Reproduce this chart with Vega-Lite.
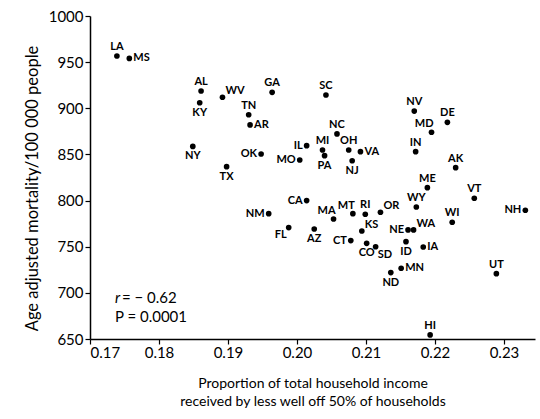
{
  "$schema": "https://vega.github.io/schema/vega-lite/v6.json",
  "width": 445,
  "height": 323,
  "autosize": {"type": "none"},
  "padding": {"left": 90, "top": 16, "right": 5, "bottom": 80},
  "background": "white",
  "config": {
    "view": {"stroke": null},
    "font": "Lato",
    "axis": {"domainColor": "black", "tickColor": "black", "labelColor": "black", "titleColor": "black", "grid": false, "labelFont": "Lato", "titleFont": "Lato", "titleFontWeight": "normal", "domainWidth": 1.5, "tickWidth": 1.2}
  },
  "data": {"values": [
    {"st": "LA", "x": 0.1739, "y": 956.7, "pos": "above"},
    {"st": "MS", "x": 0.1757, "y": 954, "pos": "right"},
    {"st": "AL", "x": 0.1861, "y": 918.7, "pos": "above"},
    {"st": "KY", "x": 0.1859, "y": 906, "pos": "below"},
    {"st": "WV", "x": 0.1892, "y": 912, "pos": "aboveright"},
    {"st": "TN", "x": 0.1930, "y": 893, "pos": "above"},
    {"st": "AR", "x": 0.1932, "y": 882, "pos": "right"},
    {"st": "NY", "x": 0.1849, "y": 858.7, "pos": "below"},
    {"st": "GA", "x": 0.1964, "y": 917.3, "pos": "above"},
    {"st": "SC", "x": 0.2042, "y": 914.4, "pos": "above"},
    {"st": "NC", "x": 0.2058, "y": 872.2, "pos": "above"},
    {"st": "OH", "x": 0.2075, "y": 854.8, "pos": "above"},
    {"st": "VA", "x": 0.2092, "y": 853, "pos": "right"},
    {"st": "NJ", "x": 0.2080, "y": 843.2, "pos": "below"},
    {"st": "IL", "x": 0.2014, "y": 859.5, "pos": "left"},
    {"st": "MI", "x": 0.2037, "y": 854.8, "pos": "above"},
    {"st": "PA", "x": 0.2040, "y": 848.7, "pos": "below"},
    {"st": "OK", "x": 0.1948, "y": 850.5, "pos": "left"},
    {"st": "MO", "x": 0.2004, "y": 844, "pos": "left"},
    {"st": "TX", "x": 0.1898, "y": 836.7, "pos": "below"},
    {"st": "NV", "x": 0.2170, "y": 897, "pos": "above"},
    {"st": "DE", "x": 0.2218, "y": 884.8, "pos": "above"},
    {"st": "MD", "x": 0.2195, "y": 874, "pos": "aboveleft"},
    {"st": "IN", "x": 0.2172, "y": 853, "pos": "above"},
    {"st": "AK", "x": 0.2230, "y": 835.7, "pos": "above"},
    {"st": "ME", "x": 0.2189, "y": 814, "pos": "above"},
    {"st": "VT", "x": 0.2257, "y": 802.5, "pos": "above"},
    {"st": "WY", "x": 0.2173, "y": 793, "pos": "above"},
    {"st": "NH", "x": 0.2331, "y": 789.5, "pos": "left"},
    {"st": "WI", "x": 0.2225, "y": 776.5, "pos": "above"},
    {"st": "NE", "x": 0.2161, "y": 768.2, "pos": "left"},
    {"st": "WA", "x": 0.2169, "y": 768.2, "pos": "aboveright"},
    {"st": "ID", "x": 0.2158, "y": 755.5, "pos": "below"},
    {"st": "IA", "x": 0.2183, "y": 749.7, "pos": "right"},
    {"st": "MN", "x": 0.2151, "y": 726.7, "pos": "right"},
    {"st": "ND", "x": 0.2136, "y": 722, "pos": "below"},
    {"st": "UT", "x": 0.2289, "y": 720.8, "pos": "above"},
    {"st": "HI", "x": 0.2193, "y": 654.4, "pos": "above"},
    {"st": "CA", "x": 0.2014, "y": 800, "pos": "left"},
    {"st": "NM", "x": 0.1959, "y": 785.8, "pos": "left"},
    {"st": "MA", "x": 0.2053, "y": 780, "pos": "aboveleft"},
    {"st": "MT", "x": 0.2081, "y": 785.8, "pos": "aboveleft"},
    {"st": "RI", "x": 0.2099, "y": 785.2, "pos": "above"},
    {"st": "OR", "x": 0.2121, "y": 787.3, "pos": "aboveright"},
    {"st": "FL", "x": 0.1988, "y": 770.7, "pos": "belowleft"},
    {"st": "AZ", "x": 0.2025, "y": 769.2, "pos": "below"},
    {"st": "KS", "x": 0.2094, "y": 767, "pos": "aboveright"},
    {"st": "CT", "x": 0.2078, "y": 756.6, "pos": "left"},
    {"st": "CO", "x": 0.2101, "y": 753.7, "pos": "below"},
    {"st": "SD", "x": 0.2114, "y": 750, "pos": "belowright"}
  ]},
  "encoding": {
    "x": {"field": "x", "type": "quantitative",
      "scale": {"domain": [0.17, 0.2345], "nice": false, "zero": false},
      "axis": {"values": [0.17, 0.18, 0.19, 0.2, 0.21, 0.22, 0.23], "format": ".2f", "labelFontSize": 15, "tickSize": 5, "labelPadding": 1, "title": ["Proportion of total household income", "received by less well off 50% of households"], "titleFontSize": 14, "titlePadding": 16, "titleLineHeight": 18}},
    "y": {"field": "y", "type": "quantitative",
      "scale": {"domain": [650, 1000], "nice": false, "zero": false},
      "axis": {"values": [650, 700, 750, 800, 850, 900, 950, 1000], "format": "d", "labelFontSize": 15, "tickSize": 5, "labelPadding": 2, "title": "Age adjusted mortality/100 000 people", "titleFontSize": 16.5, "titlePadding": 8, "titleY": 172}}
  },
  "layer": [
    {"mark": {"type": "point", "filled": true, "color": "black", "size": 32, "opacity": 1}},
    {"transform": [{"filter": "datum.pos == 'above'"}], "mark": {"type": "text", "fontWeight": "bold", "fontSize": 11, "color": "black", "dy": -9, "align": "center"}, "encoding": {"text": {"field": "st"}}},
    {"transform": [{"filter": "datum.pos == 'below'"}], "mark": {"type": "text", "fontWeight": "bold", "fontSize": 11, "color": "black", "dy": 10, "align": "center"}, "encoding": {"text": {"field": "st"}}},
    {"transform": [{"filter": "datum.pos == 'left'"}], "mark": {"type": "text", "fontWeight": "bold", "fontSize": 11, "color": "black", "dx": -4, "dy": 0, "align": "right"}, "encoding": {"text": {"field": "st"}}},
    {"transform": [{"filter": "datum.pos == 'right'"}], "mark": {"type": "text", "fontWeight": "bold", "fontSize": 11, "color": "black", "dx": 4, "dy": 0, "align": "left"}, "encoding": {"text": {"field": "st"}}},
    {"transform": [{"filter": "datum.pos == 'aboveright'"}], "mark": {"type": "text", "fontWeight": "bold", "fontSize": 11, "color": "black", "dx": 3, "dy": -6, "align": "left"}, "encoding": {"text": {"field": "st"}}},
    {"transform": [{"filter": "datum.pos == 'aboveleft'"}], "mark": {"type": "text", "fontWeight": "bold", "fontSize": 11, "color": "black", "dx": 2, "dy": -8, "align": "right"}, "encoding": {"text": {"field": "st"}}},
    {"transform": [{"filter": "datum.pos == 'belowleft'"}], "mark": {"type": "text", "fontWeight": "bold", "fontSize": 11, "color": "black", "dx": -2, "dy": 7, "align": "right"}, "encoding": {"text": {"field": "st"}}},
    {"transform": [{"filter": "datum.pos == 'belowright'"}], "mark": {"type": "text", "fontWeight": "bold", "fontSize": 11, "color": "black", "dx": 2, "dy": 8, "align": "left"}, "encoding": {"text": {"field": "st"}}},
    {"data": {"values": [{"x": 0.17362, "y": 694.5, "t": "r"}]}, "mark": {"type": "text", "fontStyle": "italic", "fontSize": 15, "color": "black", "align": "left", "baseline": "middle"}, "encoding": {"text": {"field": "t"}}},
    {"data": {"values": [{"x": 0.17464, "y": 694.5, "t": "= − 0.62"}, {"x": 0.17362, "y": 673.9, "t": "P = 0.0001"}]}, "mark": {"type": "text", "fontSize": 15, "color": "black", "align": "left", "baseline": "middle"}, "encoding": {"text": {"field": "t"}}}
  ]
}
